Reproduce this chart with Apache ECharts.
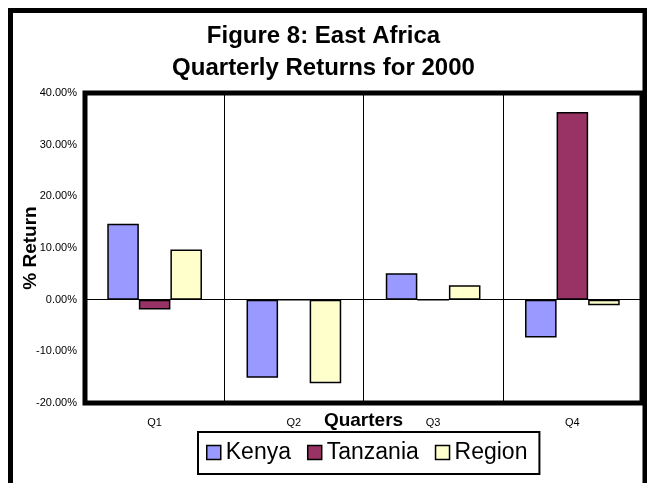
<!DOCTYPE html>
<html>
<head>
<meta charset="utf-8">
<script src="https://cdn.jsdelivr.net/npm/echarts@6/dist/echarts.min.js"></script>
<style>
html,body{margin:0;padding:0;background:#fff;}
#chart{width:647px;height:483px;}
</style>
</head>
<body>
<div id="chart"></div>
<script>
// Data (percent returns)
var categories = ['Q1', 'Q2', 'Q3', 'Q4'];
var kenya = [14.7, -15.1, 5.1, -7.3];
var tanzania = [-1.9, 0, 0, 36.3];
var region = [9.7, -16.2, 2.8, -1.1];
var yTicks = { min: -20, max: 40, interval: 10 };
var titleLines = ['Figure 8: East Africa', 'Quarterly Returns for 2000'];

var FONT = "'Liberation Sans', Arial, sans-serif";
var chart = echarts.init(document.getElementById('chart'), null, { renderer: 'canvas' });

function barSeries(name, data, color) {
  return {
    name: name,
    type: 'bar',
    data: data,
    barGap: '0%',
    barCategoryGap: '32%',
    itemStyle: { color: color, borderColor: '#000', borderWidth: 1.5 }
  };
}

var series = [
  barSeries('Kenya', kenya, '#9999FF'),
  barSeries('Tanzania', tanzania, '#993366'),
  barSeries('Region', region, '#FFFFCC')
];
series[0].markLine = {
  silent: true,
  symbol: 'none',
  label: { show: false },
  lineStyle: { color: '#000', width: 1, type: 'solid' },
  data: [{ yAxis: 0 }],
  animation: false
};

var titleStyle = { fontFamily: FONT, fontSize: 24, fontWeight: 'bold', color: '#000' };

chart.setOption({
  animation: false,
  backgroundColor: '#fff',
  textStyle: { fontFamily: FONT },
  graphic: [{
    type: 'rect',
    shape: { x: 10.5, y: 10.5, width: 634.5, height: 520 },
    style: { fill: 'none', stroke: '#000', lineWidth: 5 },
    z: 100
  }],
  title: [
    { text: titleLines[0], left: 'center', top: 24, padding: 0, textStyle: titleStyle },
    { text: titleLines[1], left: 'center', top: 56, padding: 0, textStyle: titleStyle }
  ],
  legend: {
    data: ['Kenya', 'Tanzania', 'Region'],
    left: 198,
    top: 432,
    orient: 'horizontal',
    icon: 'rect',
    itemWidth: 14,
    itemHeight: 14,
    itemGap: 16,
    padding: [9, 12, 10, 8],
    borderColor: '#000',
    borderWidth: 2,
    backgroundColor: '#fff',
    itemStyle: { borderColor: '#000', borderWidth: 1.5 },
    textStyle: { fontFamily: FONT, fontSize: 23, color: '#000' }
  },
  grid: {
    left: 85, top: 93, right: 5, bottom: 80,
    show: true,
    borderColor: '#000',
    borderWidth: 5,
    backgroundColor: '#fff'
  },
  xAxis: {
    type: 'category',
    data: categories,
    position: 'bottom',
    axisLine: { show: false, onZero: false },
    axisTick: { show: false },
    splitLine: { show: true, lineStyle: { color: '#000', width: 1 } },
    axisLabel: { fontFamily: FONT, fontSize: 11, color: '#000', margin: 14 },
    name: 'Quarters',
    nameLocation: 'middle',
    nameGap: 8,
    nameMoveOverlap: false,
    nameTextStyle: { fontFamily: FONT, fontSize: 19, fontWeight: 'bold', color: '#000' }
  },
  yAxis: {
    type: 'value',
    min: yTicks.min,
    max: yTicks.max,
    interval: yTicks.interval,
    axisLine: { show: false },
    axisTick: { show: false },
    splitLine: { show: false },
    axisLabel: {
      fontFamily: FONT, fontSize: 11, color: '#000', margin: 8,
      formatter: function (v) { return v.toFixed(2) + '%'; }
    },
    name: '% Return',
    nameLocation: 'middle',
    nameGap: 45,
    nameRotate: 90,
    nameMoveOverlap: false,
    nameTextStyle: { fontFamily: FONT, fontSize: 19, fontWeight: 'bold', color: '#000' }
  },
  series: series
});
</script>
</body>
</html>
